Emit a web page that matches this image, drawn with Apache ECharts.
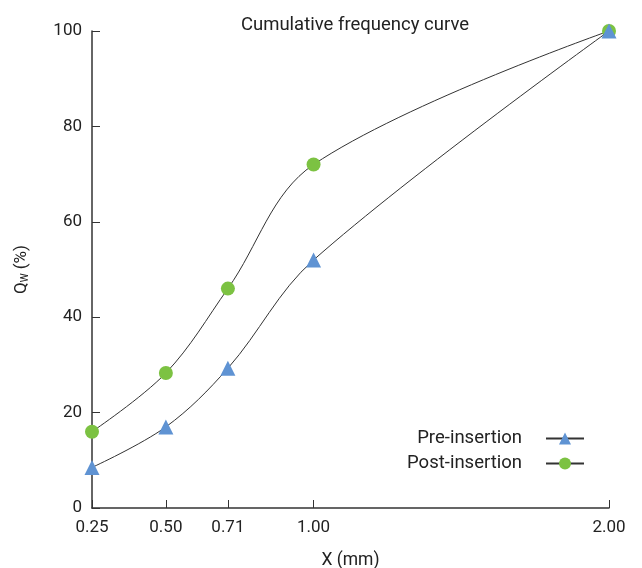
<!DOCTYPE html>
<html>
<head>
<meta charset="utf-8">
<script src="https://cdn.jsdelivr.net/npm/echarts@6/dist/echarts.min.js"></script>
<style>
  html, body { margin: 0; padding: 0; background: #fff; }
  #chart { width: 642px; height: 568px; }
</style>
</head>
<body>
<div id="chart"></div>
<script>
// sieve sizes (mm) and cumulative percentages
let sizes = [0.25, 0.50, 0.71, 1.00, 2.00]
let preInsertion = [8.5, 17, 29.3, 52, 100]
let postInsertion = [16, 28.3, 46, 72, 100]

let font = 'Roboto, sans-serif'
let chart = echarts.init(document.getElementById('chart'))

chart.setOption({
  animation: false,
  textStyle: { fontFamily: font },
  title: {
    text: 'Cumulative frequency curve',
    left: 350,
    textAlign: 'center',
    top: 11,
    textStyle: { fontSize: 18.5, fontWeight: 'normal', color: '#222', fontFamily: font }
  },
  legend: {
    orient: 'vertical',
    right: 52,
    top: 424,
    align: 'right',
    itemWidth: 38,
    itemHeight: 15,
    itemGap: 6,
    textStyle: { fontSize: 18.5, color: '#222', fontFamily: font, padding: [0, 19, 0, 0] },
    data: ['Pre-insertion', 'Post-insertion']
  },
  grid: { left: 92, right: 33, top: 31, bottom: 60, outerBoundsMode: 'none', containLabel: false },
  xAxis: {
    type: 'value',
    min: 0.25,
    max: 2.0,
    name: 'X (mm)',
    nameLocation: 'middle',
    nameGap: 44,
    nameTextStyle: { fontSize: 17.5, color: '#222', fontFamily: font },
    splitLine: { show: false },
    axisLine: { lineStyle: { color: '#333', width: 1.5 } },
    axisTick: { inside: true, length: 8, customValues: sizes, lineStyle: { color: '#333' } },
    axisLabel: {
      customValues: sizes,
      formatter: v => v.toFixed(2),
      fontSize: 17, color: '#222', margin: 11, fontFamily: font
    }
  },
  yAxis: {
    type: 'value',
    min: 0,
    max: 100,
    interval: 20,
    name: '{q|Q}{w|W} (%)',
    nameLocation: 'middle',
    nameGap: 62,
    nameTextStyle: {
      fontSize: 17, color: '#222', fontFamily: font,
      rich: {
        q: { fontSize: 17, color: '#222', fontFamily: font },
        w: { fontSize: 10, color: '#222', verticalAlign: 'bottom', padding: [7, 0, 0, 0], fontFamily: font }
      }
    },
    splitLine: { show: false },
    axisLine: { show: true, lineStyle: { color: '#333', width: 1.5 } },
    axisTick: { show: true, inside: true, length: 8, lineStyle: { color: '#333' } },
    axisLabel: { fontSize: 17, color: '#222', margin: 10, fontFamily: font }
  },
  series: [
    {
      name: 'Pre-insertion',
      type: 'line',
      smooth: 0.35,
      data: sizes.map((x, i) => [x, preInsertion[i]]),
      symbol: 'triangle',
      symbolSize: 15,
      z: 3,
      lineStyle: { color: '#333', width: 1 },
      itemStyle: { color: '#5f93d3' }
    },
    {
      name: 'Post-insertion',
      type: 'line',
      smooth: 0.35,
      data: sizes.map((x, i) => [x, postInsertion[i]]),
      symbol: 'circle',
      symbolSize: 14,
      z: 2,
      lineStyle: { color: '#333', width: 1 },
      itemStyle: { color: '#7cc242' }
    }
  ]
})
</script>
</body>
</html>
